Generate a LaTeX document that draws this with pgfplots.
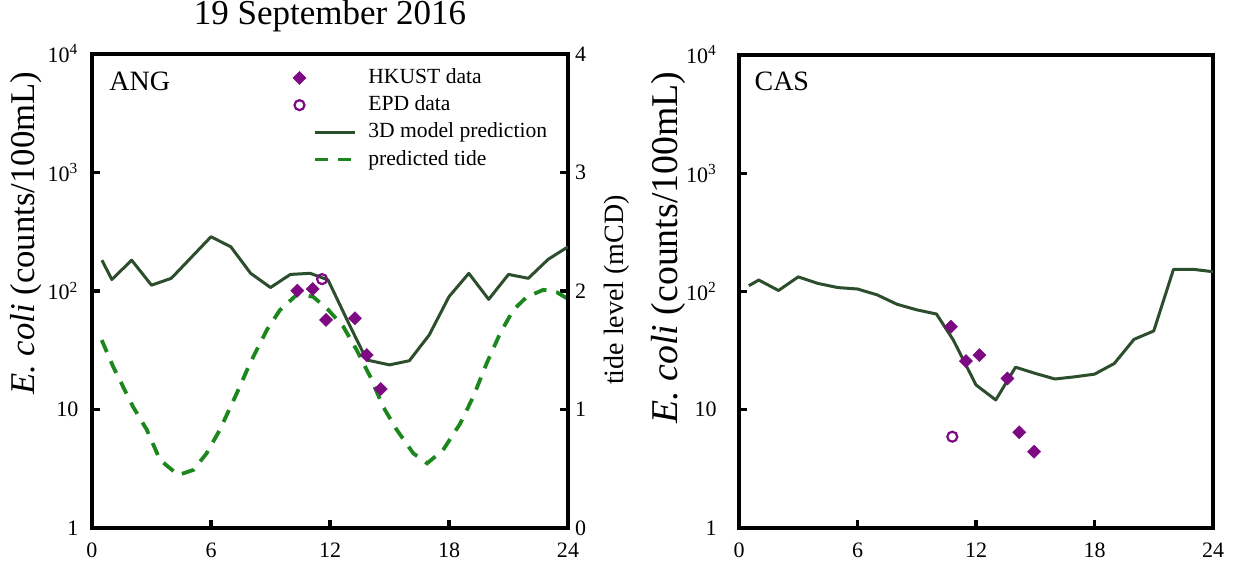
\documentclass[border=0pt]{standalone}
\usepackage{fontspec}
\setmainfont{Liberation Serif}
\usepackage{graphicx}
\usepackage{pgfplots}
\pgfplotsset{compat=1.18}
\pgfkeys{/pgf/number format/assume math mode=true}
\definecolor{modelgreen}{RGB}{45,78,45}
\definecolor{tidegreen}{RGB}{28,135,28}
\definecolor{datapurple}{RGB}{125,10,130}

\pgfplotsset{
  mybase/.style={
    scale only axis,
    xmin=0, xmax=24,
    axis line style={line width=1.6pt},
    every tick/.style={black, line width=1.6pt},
    tick align=inside, major tick length=4pt,
    ticklabel style={font=\fontsize{11}{13}\selectfont},
    xticklabel style={yshift=-4pt},
    yticklabel style={xshift=-3.3pt},
  },
  myecoli/.style={
    mybase,
    xtick={0,6,12,18,24}, xtick pos=bottom, ytick pos=left,
    ymin=1, ymax=10000, ytick={1,10,100,1000,10000},
    yticklabels={1,10,10\textsuperscript{2},10\textsuperscript{3},10\textsuperscript{4}},
    yminorticks=false,
  },
  modelline/.style={modelgreen, line width=1.5pt, line join=round, no markers},
  tideline/.style={tidegreen, line width=1.9pt, dash pattern=on 6.5pt off 5pt, no markers},
  hkust/.style={only marks, mark=square*, mark size=2.3pt, mark options={rotate=45, fill=datapurple, draw=datapurple, line width=0.3pt, solid}},
  epd/.style={only marks, mark=o, mark size=2.5pt, mark options={draw=datapurple, line width=1.1pt, solid}},
  markleg/.style={legend image code/.code={\path[draw=none,fill=none] (-11.2pt,0pt) -- (20pt,0pt); \draw[##1] plot coordinates {(-8pt,0pt)};}},
  lineleg/.style={legend image code/.code={\path[draw=none,fill=none] (-11.2pt,0pt) -- (20pt,0pt); \draw[##1] (0pt,0pt) -- (20pt,0pt);}},
}

\begin{document}
\begin{tikzpicture}
\path[use as bounding box] (0,0) rectangle (618pt,281.5pt);

% ---------- tide axis (left panel, right y axis) ----------
\begin{axis}[mybase,
  at={(46pt,17.5pt)}, anchor=south west, width=238pt, height=237pt,
  axis x line=none, axis y line*=right,
  ymin=0, ymax=4, ytick={0,1,2,3,4},
  yticklabel style={xshift=3.3pt},
  ylabel={tide level (mCD)},
  every axis y label/.style={at={(axis description cs:1.103,0.502)}, rotate=90, anchor=center, font=\fontsize{14}{16}\selectfont},
]
\addplot[tideline] coordinates {
(0.49,1.586) (1.07,1.36) (2.08,1.02) (2.76,0.83) (3.43,0.574) (4.35,0.447)
(5.11,0.49) (5.78,0.63) (6.45,0.83) (7.3,1.137) (7.97,1.39) (8.81,1.67)
(9.48,1.84) (10.4,1.98) (11.16,1.95) (11.92,1.84) (12.67,1.70) (13.35,1.50)
(14.02,1.28) (14.69,1.02) (15.36,0.83) (16.2,0.63) (16.9,0.546) (17.7,0.658)
(18.56,0.88) (19.23,1.11) (19.9,1.39) (20.57,1.64) (21.24,1.84) (21.92,1.95)
(22.76,2.01) (23.43,1.99) (23.93,1.94)
};
\end{axis}

% ---------- E. coli axis, left panel ----------
\begin{axis}[ymode=log, myecoli,
  at={(46pt,17.5pt)}, anchor=south west, width=238pt, height=237pt,
  title={\scalebox{1.25}{\fontsize{14}{16}\selectfont 19 September 2016}},
  title style={at={(0.5,1)}, anchor=base, yshift=8.5pt},
  ylabel={\scalebox{1.24}{\fontsize{14}{16}\selectfont\textit{E. coli} (counts/100mL)}},
  every axis y label/.style={at={(axis description cs:-0.139,0.622)}, rotate=90, anchor=center},
  legend style={draw=none, fill=none, inner sep=0pt, at={(0.4214,0.979)}, anchor=north west,
    font=\fontsize{10.8}{13}\selectfont, nodes={inner sep=1pt, text height=8.6pt, text depth=3pt},
    row sep=0pt, column sep=4.5pt},
  legend cell align=left,
]
\addlegendimage{hkust, markleg}\addlegendentry{HKUST data}
\addlegendimage{epd, markleg}\addlegendentry{EPD data}
\addlegendimage{modelline, lineleg}\addlegendentry{3D model prediction}
\addlegendimage{tideline, lineleg}\addlegendentry{predicted tide}

\addplot[modelline, forget plot] coordinates {
(0.5,182) (1,125) (2,182) (3,112) (4,128) (6,287) (7,236) (8,141) (9,107)
(10,138) (11,141) (11.9,124) (13,51) (13.85,26.2) (15,23.8) (16,25.8)
(17,42.5) (18,89.6) (19,141) (20,85) (21,138) (22,128) (23,185) (24,236)
};
\addplot[hkust, forget plot] coordinates {
(10.35,100.6) (11.13,104) (11.8,57) (13.26,58.9) (13.85,28.8) (14.56,14.9)
};
\addplot[epd, forget plot] coordinates {(11.6,126)};
\node[anchor=base west, inner sep=0pt, font=\fontsize{14}{16}\selectfont] at (rel axis cs:0.0357,0.924) {ANG};
\end{axis}

% ---------- E. coli axis, right panel ----------
\begin{axis}[ymode=log, myecoli,
  at={(369.5pt,17.5pt)}, anchor=south west, width=237pt, height=236.5pt,
  ylabel={\scalebox{1.35}{\fontsize{14}{16}\selectfont\textit{E. coli} (counts/100mL)}},
  every axis y label/.style={at={(axis description cs:-0.148,0.593)}, rotate=90, anchor=center},
  yticklabel style={xshift=-4.3pt},
]
\addplot[modelline] coordinates {
(0.5,112) (1,125) (2,102) (3,133) (4,117) (5,108) (6,105) (7,93.6) (8,78)
(9,70) (10,64.5) (10.85,38.9) (12,16.2) (13,12.1) (14,22.9) (15,20.3)
(16,18.2) (17,19) (18,20) (19,24.6) (20,39.4) (21,46.4) (22,154) (23,154) (24,147)
};
\addplot[hkust] coordinates {
(10.73,50.4) (11.49,25.8) (12.17,29) (13.59,18.4) (14.19,6.45) (14.94,4.42)
};
\addplot[epd] coordinates {(10.8,5.92)};
\node[anchor=base west, inner sep=0pt, font=\fontsize{14}{16}\selectfont] at (rel axis cs:0.032,0.926) {CAS};
\end{axis}
\end{tikzpicture}
\end{document}
